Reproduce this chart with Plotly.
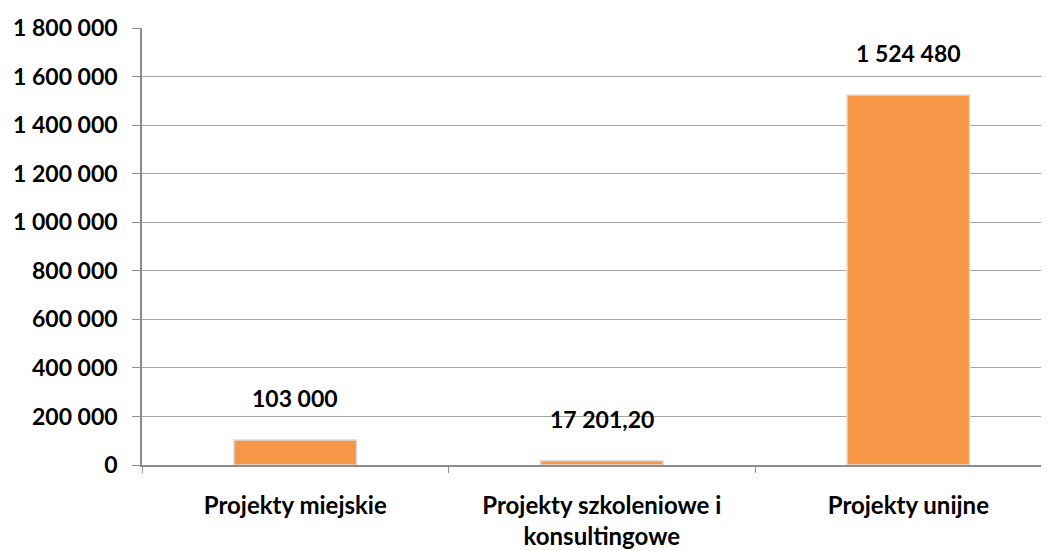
import plotly.graph_objects as go

categories = ["Projekty miejskie", "Projekty szkoleniowe i<br>konsultingowe", "Projekty unijne"]
values = [103000, 17201.20, 1524480]
y_ticks = [0, 200000, 400000, 600000, 800000, 1000000, 1200000, 1400000, 1600000, 1800000]


def fmt_pl(v):
    # Polish style: space thousands, comma decimals
    if float(v).is_integer():
        return f"{int(v):,}".replace(",", " ")
    return f"{v:,.2f}".replace(",", " ").replace(".", ",")


labels = [fmt_pl(v) for v in values]
tick_text = [fmt_pl(v) for v in y_ticks]

font = dict(family="Lato, 'Open Sans', sans-serif", size=23, color="#000000")

fig = go.Figure(
    go.Bar(
        x=categories,
        y=values,
        width=0.4,
        marker=dict(color="#F79646", line=dict(color="#dcdcdc", width=1.5)),
        hoverinfo="skip",
    )
)

for c, v, t in zip(categories, values, labels):
    fig.add_annotation(
        x=c, y=v, text=f"<b>{t}</b>", showarrow=False,
        yanchor="bottom", yshift=26, font=font,
    )

# page body has an 8px margin, so offsets are compensated here
fig.update_layout(
    width=1049,
    height=551,
    margin=dict(l=134, r=0, t=20, b=94),
    plot_bgcolor="white",
    paper_bgcolor="white",
    font=font,
    showlegend=False,
)

fig.update_xaxes(
    range=[-0.5, 2.485],
    tickmode="array",
    tickvals=categories,
    ticktext=[f"<b>{c}</b>" for c in categories],
    tickson="boundaries",
    ticks="outside",
    ticklen=6,
    tickcolor="#8c8c8c",
    showline=True,
    linecolor="#8c8c8c",
    linewidth=1.5,
    showgrid=False,
    tickfont=dict(size=24),
    ticklabelstandoff=18,
)

fig.update_yaxes(
    range=[0, 1800000],
    tickmode="array",
    tickvals=y_ticks,
    ticktext=[f"<b>{t}</b>" for t in tick_text],
    ticks="outside",
    ticklen=8,
    tickcolor="#8c8c8c",
    showline=True,
    linecolor="#8c8c8c",
    linewidth=1.5,
    gridcolor="#a6a6a6",
    gridwidth=1,
    zeroline=False,
    ticklabelstandoff=10,
)

fig.write_html("out.html")
